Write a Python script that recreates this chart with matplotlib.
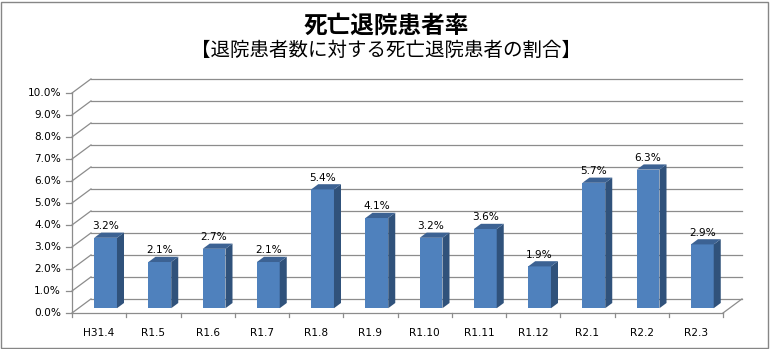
import matplotlib
matplotlib.use("Agg")
import matplotlib.pyplot as plt
from matplotlib.patches import Polygon, Rectangle

plt.rcParams['font.family'] = ['DejaVu Sans', 'Noto Sans CJK JP']

# data
months = ['H31.4', 'R1.5', 'R1.6', 'R1.7', 'R1.8', 'R1.9',
          'R1.10', 'R1.11', 'R1.12', 'R2.1', 'R2.2', 'R2.3']
rates = [3.2, 2.1, 2.7, 2.1, 5.4, 4.1, 3.2, 3.6, 1.9, 5.7, 6.3, 2.9]
yticks = [0, 1, 2, 3, 4, 5, 6, 7, 8, 9, 10]
title = '死亡退院患者率'
subtitle = '【退院患者数に対する死亡退院患者の割合】'

# 3d look (in data units)
DX, DY = 0.35, 0.64      # depth offset of back wall
F = 0.34                 # depth where bar front sits
B = 0.37                 # bar depth
W = 0.42                 # bar width
grid_c = '#8C8C8C'
front_c = '#4F81BD'
side_c = '#30527B'
top_c = '#3C6293'

fig = plt.figure(figsize=(7.7, 3.49), dpi=100)
ax = fig.add_axes([0, 0, 1, 1])
ax.set_xlim(-0.5 - 72 / 54.25, -0.5 + (770 - 72) / 54.25)
ax.set_ylim((313 - 349) / 22, 313 / 22)
ax.axis('off')

n = len(months)
x0, x1 = -0.5, n - 0.5

# back wall grid + left wall diagonals
for t in yticks:
    ax.plot([x0 + DX, x1 + DX], [t + DY, t + DY], color=grid_c, lw=0.9)
    ax.plot([x0, x0 + DX], [t, t + DY], color=grid_c, lw=0.9)
    ax.plot([x0 - 0.11, x0], [t, t], color=grid_c, lw=0.9)
    ax.text(x0 - 0.2, t, f'{t:.1f}%', ha='right', va='center', fontsize=7.6)
# front axis and floor
ax.plot([x0, x0], [0, yticks[-1]], color=grid_c, lw=0.9)
ax.plot([x0, x1], [0, 0], color=grid_c, lw=0.9)
ax.plot([x1, x1 + DX], [0, DY], color=grid_c, lw=0.9)
for i in range(n + 1):
    ax.plot([i - 0.5, i - 0.5], [0, -0.2], color=grid_c, lw=0.9)

# bars
xs = [i + F * DX for i in range(n)]
ax.bar(xs, rates, width=W, bottom=F * DY, color=front_c, zorder=3)
for x, v in zip(xs, rates):
    l, r = x - W / 2, x + W / 2
    b0, top = F * DY, F * DY + v
    side = [(r, b0), (r + B * DX, b0 + B * DY), (r + B * DX, top + B * DY), (r, top)]
    ax.add_patch(Polygon(side, closed=True, facecolor=side_c, edgecolor='none', zorder=3))
    topf = [(l, top), (r, top), (r + B * DX, top + B * DY), (l + B * DX, top + B * DY)]
    ax.add_patch(Polygon(topf, closed=True, facecolor=top_c, edgecolor='none', zorder=3))
    ax.text(x, top + 0.3, f'{v:.1f}%', ha='center', va='bottom', fontsize=7.6, zorder=4)

for i, m in enumerate(months):
    ax.text(i, -0.9, m, ha='center', va='center', fontsize=7.6)

fig.text(386 / 770, 1 - 26 / 349, title, ha='center', va='center',
         fontsize=17, fontweight='bold', family=['Noto Sans CJK JP', 'DejaVu Sans'])
fig.text(386 / 770, 1 - 50 / 349, subtitle, ha='center', va='center',
         fontsize=14, family=['Noto Sans CJK JP', 'DejaVu Sans'])

fig.patches.append(Rectangle((1 / 770, 1 / 349), 767 / 770, 346 / 349,
                             transform=fig.transFigure, fill=False,
                             edgecolor='#868686', lw=1.0))

fig.savefig('out.png', dpi=100)
